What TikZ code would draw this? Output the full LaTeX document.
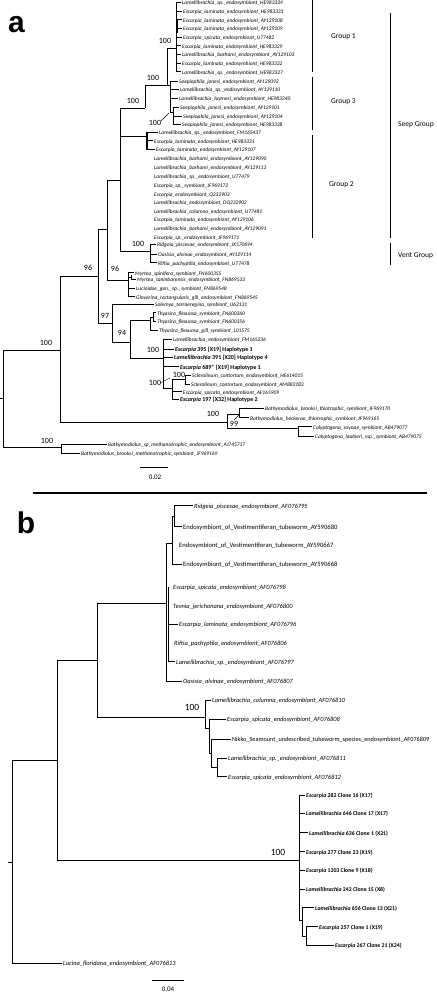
\documentclass[tikz,border=0pt]{standalone}
\usepackage{fontspec}
\setmainfont{Carlito}
\newfontfamily\headfont{Liberation Sans}
\newcommand\lf[6]{\node[#1] (#2) at (#5,#4) {#6};\draw[br] (#3,#4) -- ([xshift=-1.5pt]#2.west);}
\newcommand\lfn[5]{\node[#1] (#2) at (#4,#3) {#5};}
\begin{document}
\begin{tikzpicture}[x=1pt,y=-1pt,
  br/.style={line width=0.85pt, line cap=rect},
  thin/.style={line width=0.4pt},
  la/.style={font=\fontsize{5.45}{6}\selectfont\itshape, inner sep=0pt, text height=0.7em, text depth=0.2em, anchor=west},
  lh/.style={la, font=\fontsize{6}{7}\selectfont\bfseries},
  lb/.style={la, font=\fontsize{6.4}{7}\selectfont\itshape},
  lbu/.style={la, font=\fontsize{6.6}{7}\selectfont},
  lbn/.style={la, font=\fontsize{6.25}{7}\selectfont},
  lc/.style={la, font=\fontsize{5.8}{7}\selectfont\bfseries},
  bs/.style={font=\fontsize{8}{9}\selectfont, inner sep=0pt},
  bsb/.style={font=\fontsize{9.5}{10}\selectfont, inner sep=0pt},
  grp/.style={font=\fontsize{7.5}{9}\selectfont, inner sep=0pt, anchor=west},
  panel/.style={font=\headfont\bfseries\fontsize{30}{30}\selectfont, inner sep=0pt, anchor=base},
  sc/.style={font=\fontsize{7}{8}\selectfont, inner sep=0pt}]
\fill[white] (0,0) rectangle (436,992);
\useasboundingbox (0,0) rectangle (436,992);

% ---------------- panel a ----------------
\node[panel] (pa) at (16.5,33) {a};
% group 1
\lf{la}{a1}{176}{2.5}{182}{Lamellibrachia\_sp.\_endosymbiont\_HE983334}
\lf{la}{a2}{176}{11.2}{183}{Escarpia\_laminata\_endosymbiont\_HE983333}
\lf{la}{a3}{176}{19.8}{183}{Escarpia\_laminata\_endosymbiont\_AY129108}
\lf{la}{a4}{176}{28.4}{183}{Escarpia\_laminata\_endosymbiont\_AY129109}
\lf{la}{a5}{176}{37}{183}{Escarpia\_spicata\_endosymbiont\_U77482}
\lf{la}{a6}{176}{45.8}{182}{Escarpia\_laminata\_endosymbiont\_HE983329}
\lf{la}{a7}{176}{54.3}{182}{Lamellibrachia\_barhami\_endosymbiont\_AY129103}
\lf{la}{a8}{176}{63}{182}{Escarpia\_laminata\_endosymbiont\_HE983332}
\lf{la}{a9}{176}{71.8}{182}{Lamellibrachia\_sp.\_endosymbiont\_HE983327}
% group 3
\lf{la}{a10}{170}{81}{179}{Seepiophila\_jonesi\_endosymbiont\_AY129092}
\lf{la}{a11}{170}{89.3}{180}{Lamellibrachia\_sp.\_endosymbiont\_AY129110}
\lf{la}{a12}{170}{98.3}{179}{Lamellibrachia\_luymesi\_endosymbiont\_HE983340}
\lf{la}{a13}{173}{107.3}{180}{Seepiophila\_jonesi\_endosymbiont\_AY129101}
\lf{la}{a14}{173}{116}{183}{Seepiophila\_jonesi\_endosymbiont\_AY129104}
\lf{la}{a15}{173}{124.3}{182}{Seepiophila\_jonesi\_endosymbiont\_HE983338}
% group 2
\lf{la}{a16}{147}{132.3}{159}{Lamellibrachia\_sp.\_endosymbiont\_FM165437}
\lf{la}{a17}{147}{140.7}{154}{Escarpia\_laminata\_endosymbiont\_HE983331}
\lf{la}{a18}{147}{149.3}{156}{Escarpia\_laminata\_endosymbiont\_AY129107}
\lfn{la}{a19}{158.3}{154}{Lamellibrachia\_barhami\_endosymbiont\_AY129090}
\lfn{la}{a20}{167.3}{154}{Lamellibrachia\_barhami\_endosymbiont\_AY129113}
\lfn{la}{a21}{175.7}{154}{Lamellibrachia\_sp.\_endosymbiont\_U77479}
\lfn{la}{a22}{185}{154}{Escarpia\_sp.\_symbiont\_JF969172}
\lfn{la}{a23}{194}{154}{Escarpia\_endosymbiont\_Q232903}
\lfn{la}{a24}{202.3}{154}{Lamellibrachia\_endosymbiont\_DQ232902}
\lfn{la}{a25}{210.7}{154}{Lamellibrachia\_columna\_endosymbiont\_U77481}
\lfn{la}{a26}{219.3}{154}{Escarpia\_laminata\_endosymbiont\_AY129106}
\lfn{la}{a27}{227.7}{154}{Lamellibrachia\_barhami\_endosymbiont\_AY129091}
\lfn{la}{a28}{236.7}{154}{Escarpia\_sp.\_endosymbiont\_JF969171}
% vent
\lf{la}{a29}{150}{244.3}{157}{Ridgeia\_piscesae\_endosymbiont\_JX570694}
\lf{la}{a30}{150}{254}{158}{Oasisia\_alvinae\_endosymbiont\_AY129114}
\lf{la}{a31}{150}{262.7}{158}{Riftia\_pachyptila\_endosymbiont\_U77478}
% others
\lf{la}{a32}{128}{272.7}{135}{Myrtea\_spinifera\_symbiont\_FN600355}
\lf{la}{a33}{131}{279.3}{137}{Myrtea\_taninbarensis\_endosymbiont\_FN869533}
\lf{la}{a34}{128}{288.3}{136}{Lucinidae\_gen.\_sp.\_symbiont\_FN869548}
\lf{la}{a35}{128}{296.7}{136}{Gloverina\_rectangularis\_gill\_endosymbiont\_FN869545}
\lf{la}{a36}{112}{304.3}{155}{Solemya\_terraeregina\_symbiont\_U62131}
\lf{la}{a37}{153}{312.7}{157}{Thyasira\_flexuosa\_symbiont\_FN600360}
\lf{la}{a38}{153}{321}{157}{Thyasira\_flexuosa\_symbiont\_FN600356}
\lf{la}{a39}{150}{330}{159}{Thyasira\_flexuosa\_gill\_symbiont\_L01575}
\lf{la}{a40}{163}{339.3}{173}{Lamellibrachia\_endosymbiont\_FM165236}
\lf{lh}{a41}{163}{349}{175}{\textit{Escarpia} 395 [X19] Haplotype 1}
\lf{lh}{a42}{163}{357.3}{174}{\textit{Lamellibrachia} 391 [X20] Haplotype 4}
\lf{lh}{a43}{163}{366.7}{180}{\textit{Escarpia} 689* [X19] Haplotype 1}
\lf{la}{a44}{185}{375.3}{192}{Sclerolinum\_contortum\_endosymbiont\_HE614015}
\lf{la}{a45}{185}{384}{191}{Sclerolinum\_contortum\_endosymbiont\_AM883183}
\lf{la}{a46}{172}{391.7}{183}{Escarpia\_spicata\_endosymbiont\_AF165909}
\lf{lh}{a47}{172}{399.3}{180}{\textit{Escarpia} 197 [X32] Haplotype 2}
\lf{la}{a48}{239}{408.3}{265}{Bathymodiolus\_brooksi\_thiotrophic\_symbiont\_JF969170}
\lf{la}{a49}{239}{417.7}{250}{Bathymodiolus\_heckerae\_thiotrophic\_symbiont\_JF969165}
\lf{la}{a50}{298}{426.7}{313}{Calyptogena\_soyoae\_symbiont\_AB479077}
\lf{la}{a51}{298}{436}{315}{Calyptogena\_laubieri\_ssp.\_symbiont\_AB479075}
\lf{la}{a52}{61}{444.3}{108}{Bathymodiolus\_sp\_methanotrophic\_endosymbiont\_AJ745717}
\lf{la}{a53}{61}{453.3}{81}{Bathymodiolus\_brooksi\_methanotrophic\_symbiont\_JF969169}

% internal branches panel a
\draw[br] (176,2.5) -- (176,71.8);
\draw[br] (177.4,19) -- (177.4,33);
\draw[br] (167,48) -- (176,48);
\draw[br] (167,48) -- (167,85);
\draw[br] (145,85) -- (170,85);
\draw[br] (145,85) -- (145,108);
\draw[br] (120,108) -- (145,108);
\draw[br] (170,81) -- (170,112);
\draw[br] (170,112) -- (173,112);
\draw[br] (173,107.3) -- (173,124.3);
\draw[br] (120,108) -- (120,251);
\draw[br] (120,136) -- (147,136);
\draw[br, line width=1.3pt] (147,132.3) -- (147,149.3);
\draw[br] (120,251) -- (150,251);
\draw[br] (150,244.3) -- (150,262.7);
\draw[br] (107,180) -- (120,180);
\draw[br] (107,180) -- (107,280);
\draw[br] (107,280) -- (128,280);
\draw[br] (128,272.7) -- (128,296.7);
\draw[br] (128,277) -- (131,277);
\draw[br] (131,275) -- (131,279.3);
\draw[br] (98,229) -- (107,229);
\draw[br] (98,229) -- (98,323);
\draw[br] (60,276) -- (98,276);
\draw[br] (98,323) -- (112,323);
\draw[br] (112,304.3) -- (112,342);
\draw[br] (112,342) -- (130,342);
\draw[br] (130,320) -- (130,358);
\draw[br] (130,320) -- (150,320);
\draw[br] (150,317) -- (150,330);
\draw[br] (150,317) -- (153,317);
\draw[br] (153,312.7) -- (153,321);
\draw[br] (130,358) -- (163,358);
\draw[br] (163,339.3) -- (163,388);
\draw[br] (163,388) -- (172,388);
\draw[br] (172,379) -- (172,399.3);
\draw[br] (172,379) -- (185,379);
\draw[br] (185,375.3) -- (185,384);
\draw[br] (60,276) -- (60,422);
\draw[br] (60,422) -- (227,422);
\draw[br] (227,414) -- (227,428);
\draw[br] (227,414) -- (239,414);
\draw[br] (239,408.3) -- (239,417.7);
\draw[br] (227,428) -- (298,428);
\draw[br] (298,426.7) -- (298,436);
\draw[br] (3,350) -- (60,350);
\draw[br] (3,350) -- (3,447);
\draw[br] (0,398) -- (3,398);
\draw[br] (3,447) -- (61,447);
\draw[br] (61,444.3) -- (61,453.3);
% leaders
\draw[thin] (161,121) -- (169,113);
\draw[thin] (160,383) -- (170,378);
\draw[thin] (234,420) -- (239,415);
% bootstrap a
\node[bs] (s1) at (165,41) {100};
\node[bs] (s2) at (153,78) {100};
\node[bs] (s3) at (133,101) {100};
\node[bs] (s4) at (155,123) {100};
\node[bs] (s5) at (138,244) {100};
\node[bs] (s6) at (115,269) {96};
\node[bs] (s7) at (88,268) {96};
\node[bs] (s8) at (105,316) {97};
\node[bs] (s9) at (122,333) {94};
\node[bs] (s10) at (153,350) {100};
\node[bs] (s11) at (155,383) {100};
\node[bs] (s12) at (179,374.5) {100};
\node[bs] (s13) at (46,343) {100};
\node[bs] (s14) at (47,441) {100};
\node[bs] (s15) at (213,414) {100};
\node[bs] (s16) at (234,424) {99};
% groups
\draw[line width=1pt] (312,0) -- (312,72);
\draw[line width=1pt] (312,77) -- (312,130);
\draw[line width=1pt] (312,135) -- (312,238);
\draw[line width=1pt] (390,13) -- (390,238);
\draw[line width=1pt] (390,243) -- (390,265);
\node[grp] (g1) at (331,37) {Group 1};
\node[grp] (g3) at (331,102) {Group 3};
\node[grp] (g2) at (329,185) {Group 2};
\node[grp] (gs) at (398,125) {Seep Group};
\node[grp] (gv) at (398,256) {Vent Group};
% scale a
\draw[br] (140,467.7) -- (168,467.7);
\node[sc] (sca) at (155,477) {0.02};

% separator
\draw[line width=1.2pt] (33,493) -- (427,493);

% ---------------- panel b ----------------
\node[panel] (pb) at (26,533) {b};
\lf{lb}{b1}{174}{505.7}{194}{Ridgeia\_piscesae\_endosymbiont\_AF076795}
\lf{lbu}{b2}{174}{526.7}{183}{Endosymbiont\_of\_Vestimentiferan\_tubeworm\_AY590680}
\lfn{lbu}{b3}{545}{179}{Endosymbiont\_of\_Vestimentiferan\_tubeworm\_AY590667}
\lf{lbu}{b4}{172}{564.3}{183}{Endosymbiont\_of\_Vestimentiferan\_tubeworm\_AY590668}
\lfn{lb}{b5}{587.3}{173}{Escarpia\_spicata\_endosymbiont\_AF076798}
\lfn{lb}{b6}{606}{173}{Tevnia\_jerichonana\_endosymbiont\_AF076800}
\lf{lb}{b7}{168}{624}{179}{Escarpia\_laminata\_endosymbiont\_AF076796}
\lfn{lb}{b8}{643.3}{174}{Riftia\_pachyptila\_endosymbiont\_AF076806}
\lf{lb}{b9}{168}{661.7}{176}{Lamellibrachia\_sp.\_endosymbiont\_AF076797}
\lf{lb}{b10}{166}{681}{183}{Oasisia\_alvinae\_endosymbiont\_AF076807}
\lf{lb}{b11}{205}{700}{212}{Lamellibrachia\_columna\_endosymbiont\_AF076810}
\lf{lb}{b12}{209}{719}{227}{Escarpia\_spicata\_endosymbiont\_AF076808}
\lf{lbn}{b13}{211}{739.3}{232}{Nikko\_Seamount\_undescribed\_tubeworm\_species\_endosymbiont\_AF076809}
\lf{lb}{b14}{217}{758.3}{228}{Lamellibrachia\_sp.\_endosymbiont\_AF076811}
\lf{lb}{b15}{217}{776.7}{228}{Escarpia\_spicata\_endosymbiont\_AF076812}
\lf{lc}{b16}{299}{795}{306}{\textit{Escarpia} 282 Clone 16 (X17)}
\lf{lc}{b17}{299}{813.3}{306}{\textit{Lamellibrachia} 646 Clone 17 (X17)}
\lf{lc}{b18}{299}{832.7}{309}{\textit{Lamellibrachia} 636 Clone 1 (X21)}
\lf{lc}{b19}{299}{851.7}{306}{\textit{Escarpia} 277 Clone 23 (X19)}
\lf{lc}{b20}{299}{870}{306}{\textit{Escarpia} 1303 Clone 9 (X18)}
\lf{lc}{b21}{299}{889}{306}{\textit{Lamellibrachia} 242 Clone 15 (X8)}
\lf{lc}{b22}{302}{907.7}{315}{\textit{Lamellibrachia} 656 Clone 13 (X21)}
\lf{lc}{b23}{306}{926.7}{319}{\textit{Escarpia} 257 Clone 1 (X19)}
\lf{lc}{b24}{306}{945}{335}{\textit{Escarpia} 267 Clone 21 (X24)}
\lf{lb}{b25}{12}{963.3}{63}{Lucina\_floridana\_endosymbiont\_AF076813}

\draw[br] (174,505.7) -- (174,526.7);
\draw[br] (172,516) -- (174,516);
\draw[br] (172,516) -- (172,564.3);
\draw[br] (166,543) -- (172,543);
\draw[br] (166,543) -- (166,681);
\draw[br] (168,587.3) -- (168,661.7);
\draw[br] (97,603) -- (166,603);
\draw[br] (97,603) -- (97,717);
\draw[br] (97,717) -- (205,717);
\draw[br] (205,700) -- (205,728);
\draw[br] (205,728) -- (209,728);
\draw[br] (209,719) -- (209,753);
\draw[br] (209,753) -- (211,753);
\draw[br] (211,739.3) -- (211,767);
\draw[br] (211,767) -- (217,767);
\draw[br] (217,758.3) -- (217,776.7);
\draw[br] (57,660) -- (97,660);
\draw[br] (57,660) -- (57,860);
\draw[br] (57,860) -- (299,860);
\draw[br] (299,795) -- (299,920);
\draw[br] (299,920) -- (302,920);
\draw[br] (302,907.7) -- (302,936);
\draw[br] (302,936) -- (306,936);
\draw[br] (306,926.7) -- (306,945);
\draw[br] (12,760) -- (57,760);
\draw[br] (12,760) -- (12,963.3);
\draw[br] (8,862) -- (12,862);
\node[bsb] (t1) at (192,707) {100};
\node[bsb] (t2) at (278,852) {100};
\draw[br] (152,980) -- (184,980);
\node[sc] (scb) at (168,989) {0.04};
\end{tikzpicture}
\end{document}
